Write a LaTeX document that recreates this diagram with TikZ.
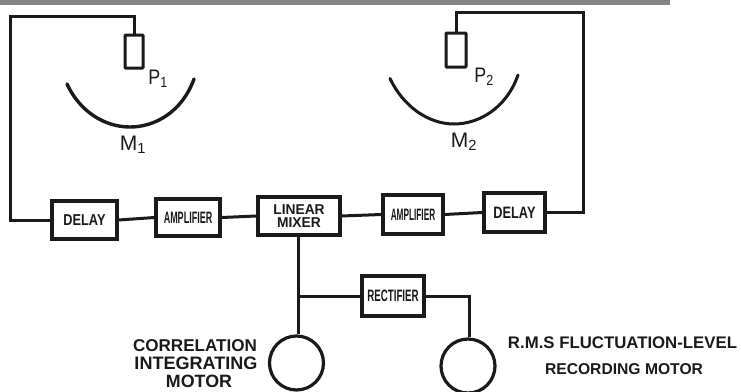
\documentclass[tikz,border=0pt]{standalone}
\usepackage{graphicx}
\usepackage{fontspec}
\setmainfont{Liberation Sans}
\definecolor{ink}{HTML}{1A1A1A}
\definecolor{barc}{HTML}{858585}
\tikzset{
  wire/.style={draw=ink,line width=3pt,line join=miter},
  blockbox/.style={draw=ink,line width=3.2pt,fill=white,inner sep=0pt,text=ink,font=\fontsize{15}{15}\selectfont\bfseries,align=center},
  pickup/.style={draw=ink,line width=3pt,fill=white,inner sep=0pt,rounded corners=0.8pt},
  motorc/.style={circle,draw=ink,line width=3.2pt,fill=white,inner sep=0pt,minimum size=54pt},
  txt/.style={inner sep=0pt,text=ink,font=\fontsize{13.5}{13.5}\selectfont\bfseries},
  symb/.style={inner sep=0pt,text=ink,font=\fontsize{21}{21}\selectfont},
  mirror/.style={draw=ink,line cap=round}
}
\begin{document}
\begin{tikzpicture}[x=1pt,y=-1pt]
\useasboundingbox (0,0) rectangle (741,391);
\fill[barc] (0,0) rectangle (670,4.5);
% pickups
\node[pickup,minimum width=18pt,minimum height=33pt] (p1) at (134,51.5) {};
\node[pickup,minimum width=20pt,minimum height=34pt] (p2) at (456,50) {};
% mirrors
\draw[mirror,line width=3.4pt] (67,84) .. controls (80,112) and (105,127) .. (130,127) .. controls (155,127) and (182,112) .. (194,79);
\draw[mirror,line width=3pt] (390,78.5) .. controls (403,106) and (428,124) .. (454,124) .. controls (480,124) and (507,107) .. (518,75);
% blocks
\node[blockbox,minimum width=65pt,minimum height=38pt] (d1) at (84.5,220) {\scalebox{0.85}[1.05]{DELAY}};
\node[blockbox,minimum width=64pt,minimum height=37pt] (a1) at (188,217.5) {\scalebox{0.6}[1.1]{AMPLIFIER}};
\node[blockbox,minimum width=82pt,minimum height=38pt] (mix) at (299,216) {\scalebox{0.92}[0.95]{LINEAR}\\[-2pt]\scalebox{0.92}[0.95]{MIXER}};
\node[blockbox,minimum width=60pt,minimum height=39pt] (a2) at (413,214.5) {\scalebox{0.55}[1.1]{AMPLIFIER}};
\node[blockbox,minimum width=61pt,minimum height=39pt] (d2) at (514.5,212.5) {\scalebox{0.85}[1.1]{DELAY}};
\node[blockbox,minimum width=62pt,minimum height=40pt] (rect) at (393,296) {\scalebox{0.65}[1.1]{RECTIFIER}};
% motors
\node[motorc] (m1) at (296.5,363) {};
\node[motorc] (m2) at (468,366) {};
% wiring
\coordinate (tl) at (10,16);
\coordinate (tr) at (583,12);
\coordinate (j) at (298,296);
\coordinate (k) at (469,296);
\draw[wire] (p1.north) |- (tl) |- (d1.west);
\draw[wire] (p2.north) |- (tr) |- (d2.east);
\draw[wire] (d1.east) -- (a1.west);
\draw[wire] (a1.east) -- (mix.west);
\draw[wire] (mix.east) -- (a2.west);
\draw[wire] (a2.east) -- (d2.west);
\draw[wire] (j |- mix.south) -- (j) -- (j |- m1.north);
\draw[wire] (j) -- (rect.west);
\draw[wire] (rect.east) -- (k) -- (k |- m2.north);
% labels
\node[symb] (lp1) at (158,79) {\scalebox{0.85}[1]{P\textsubscript{1}}};
\node[symb] (lm1) at (133,145) {M\textsubscript{1}};
\node[symb] (lp2) at (484,77) {\scalebox{0.85}[1]{P\textsubscript{2}}};
\node[symb] (lm2) at (464,142) {M\textsubscript{2}};
\node[txt] (c1) at (195,346) {\resizebox{124pt}{!}{CORRELATION}};
\node[txt] (c2) at (196,363.5) {\resizebox{123pt}{!}{INTEGRATING}};
\node[txt] (c3) at (199,381.5) {\resizebox{66pt}{!}{MOTOR}};
\node[txt] (r1) at (622.5,343) {\resizebox{229pt}{!}{R.M.S FLUCTUATION-LEVEL}};
\node[txt] (r2) at (624,369) {\resizebox{158pt}{!}{RECORDING MOTOR}};
\end{tikzpicture}
\end{document}
